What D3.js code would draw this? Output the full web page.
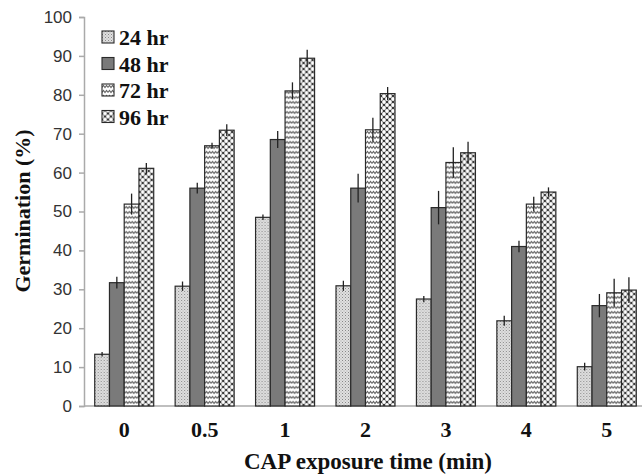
<!DOCTYPE html>
<html>
<head>
<meta charset="utf-8">
<script src="https://cdn.jsdelivr.net/npm/d3@7"></script>
<style>
  body { margin: 0; background: #fff; }
  svg { display: block; }
</style>
</head>
<body>
<div id="chart"></div>
<script>
// exposure times (x categories) and germination series
var times = ['0', '0.5', '1', '2', '3', '4', '5'];
var seriesNames = ['24 hr', '48 hr', '72 hr', '96 hr'];
var g24 = [13.3, 30.8, 48.5, 30.9, 27.5, 21.9, 10.1];
var g48 = [31.7, 56, 68.5, 56, 51, 41, 25.8];
var g72 = [51.9, 66.9, 81, 71, 62.6, 51.9, 29.1];
var g96 = [61.1, 70.9, 89.4, 80.3, 65.1, 55, 29.8];
var e24 = [0.6, 1.2, 0.7, 1.3, 0.8, 1.3, 1];
var e48 = [1.5, 1.4, 2.2, 3.7, 4.3, 1.5, 3];
var e72 = [2.7, 0.8, 2.2, 3.1, 3.9, 1.9, 3.6];
var e96 = [1.4, 1.5, 2.2, 1.7, 2.8, 1.2, 3.3];
var yTicks = [0, 10, 20, 30, 40, 50, 60, 70, 80, 90, 100];

(function() {
  var width = 642, height = 475;
  var mLeft = 84, mRight = 647, mTop = 17, mBottom = 406;

  var values = [g24, g48, g72, g96];
  var errors = [e24, e48, e72, e96];
  var serif = '"Liberation Serif", "Times New Roman", serif';

  var svg = d3.select('#chart')
    .append('svg')
    .attr('width', width)
    .attr('height', height);

  // fill patterns for the four series
  var defs = svg.append('defs');

  var p1 = defs.append('pattern').attr('id', 'pat24')
    .attr('width', 3).attr('height', 3).attr('patternUnits', 'userSpaceOnUse');
  p1.append('rect').attr('width', 3).attr('height', 3).attr('fill', '#e0e0e0');
  p1.append('rect').attr('x', 0).attr('y', 0).attr('width', 1).attr('height', 1).attr('fill', '#888');
  p1.append('rect').attr('x', 1.5).attr('y', 1.5).attr('width', 1).attr('height', 1).attr('fill', '#a5a5a5');

  var p3 = defs.append('pattern').attr('id', 'pat72')
    .attr('width', 6).attr('height', 5).attr('patternUnits', 'userSpaceOnUse');
  p3.append('rect').attr('width', 6).attr('height', 5).attr('fill', '#fff');
  p3.append('path').attr('d', 'M0,3.5 L1.5,1.5 L3,3.5 L4.5,1.5 L6,3.5')
    .attr('fill', 'none').attr('stroke', '#666').attr('stroke-width', 1.1);

  var p4 = defs.append('pattern').attr('id', 'pat96')
    .attr('width', 6).attr('height', 6).attr('patternUnits', 'userSpaceOnUse');
  p4.append('rect').attr('width', 6).attr('height', 6).attr('fill', '#3a3a3a');
  [[3, 3], [0, 0], [6, 0], [0, 6], [6, 6]].forEach(function(c) {
    p4.append('circle').attr('cx', c[0]).attr('cy', c[1]).attr('r', 1.9).attr('fill', '#fff');
  });

  var fills = ['url(#pat24)', '#7a7a7a', 'url(#pat72)', 'url(#pat96)'];

  var x0 = d3.scaleBand().domain(times).range([mLeft, mRight]).padding(0);
  var x1 = d3.scaleBand().domain(d3.range(4)).range([0, 59]).padding(0);
  var y = d3.scaleLinear().domain([0, 100]).range([mBottom, mTop]);

  // y axis
  var yAxis = svg.append('g')
    .attr('transform', 'translate(' + mLeft + ',0)')
    .call(d3.axisLeft(y).tickValues(yTicks).tickSize(5).tickPadding(7));
  yAxis.select('.domain').attr('stroke', '#aaa').attr('stroke-width', 1.5);
  yAxis.selectAll('.tick line').attr('stroke', '#aaa').attr('stroke-width', 1.5);
  yAxis.selectAll('.tick text')
    .attr('fill', '#333')
    .style('font-family', '"Liberation Sans", Arial, sans-serif')
    .style('font-size', '17px');

  // x baseline
  svg.append('line')
    .attr('x1', mLeft).attr('x2', width)
    .attr('y1', y(0)).attr('y2', y(0))
    .attr('stroke', '#aaa').attr('stroke-width', 1.5);

  // bars
  var groups = svg.selectAll('.grp')
    .data(times)
    .enter()
    .append('g')
    .attr('class', 'grp')
    .attr('transform', function(d) {
      return 'translate(' + (x0(d) + (x0.bandwidth() - 59) / 2) + ',0)';
    });

  function rows(d, i) {
    return values.map(function(s, k) {
      return { k: k, v: s[i], e: errors[k][i] };
    });
  }

  groups.selectAll('rect')
    .data(rows)
    .enter()
    .append('rect')
    .attr('x', function(d) { return x1(d.k); })
    .attr('y', function(d) { return y(d.v); })
    .attr('width', x1.bandwidth())
    .attr('height', function(d) { return y(0) - y(d.v); })
    .attr('fill', function(d) { return fills[d.k]; })
    .attr('stroke', '#2a2a2a')
    .attr('stroke-width', 1.2);

  // error bars
  groups.selectAll('.err')
    .data(rows)
    .enter()
    .append('line')
    .attr('class', 'err')
    .attr('x1', function(d) { return x1(d.k) + x1.bandwidth() / 2; })
    .attr('x2', function(d) { return x1(d.k) + x1.bandwidth() / 2; })
    .attr('y1', function(d) { return y(d.v + d.e); })
    .attr('y2', function(d) { return y(d.v - d.e); })
    .attr('stroke', '#222')
    .attr('stroke-width', 1.3);

  // x tick labels
  svg.selectAll('.xlab')
    .data(times)
    .enter()
    .append('text')
    .attr('class', 'xlab')
    .attr('x', function(d) { return x0(d) + x0.bandwidth() / 2; })
    .attr('y', 437)
    .attr('text-anchor', 'middle')
    .style('font-family', serif)
    .style('font-weight', 'bold')
    .style('font-size', '22px')
    .attr('fill', '#111')
    .text(function(d) { return d; });

  // axis titles
  svg.append('text')
    .attr('x', 368).attr('y', 469)
    .attr('text-anchor', 'middle')
    .style('font-family', serif)
    .style('font-weight', 'bold')
    .style('font-size', '23px')
    .attr('fill', '#111')
    .text('CAP exposure time (min)');

  svg.append('text')
    .attr('transform', 'translate(30,211) rotate(-90)')
    .attr('text-anchor', 'middle')
    .style('font-family', serif)
    .style('font-weight', 'bold')
    .style('font-size', '22px')
    .attr('fill', '#111')
    .text('Germination (%)');

  // legend
  var legend = svg.selectAll('.leg')
    .data(seriesNames)
    .enter()
    .append('g')
    .attr('class', 'leg')
    .attr('transform', function(d, i) { return 'translate(102,' + (31 + i * 26.5) + ')'; });

  legend.append('rect')
    .attr('width', 12).attr('height', 12)
    .attr('fill', function(d, i) { return fills[i]; })
    .attr('stroke', '#2a2a2a')
    .attr('stroke-width', 1.1);

  legend.append('text')
    .attr('x', 17).attr('y', 14)
    .style('font-family', serif)
    .style('font-weight', 'bold')
    .style('font-size', '22px')
    .attr('fill', '#111')
    .text(function(d) { return d; });
})();
</script>
</body>
</html>
